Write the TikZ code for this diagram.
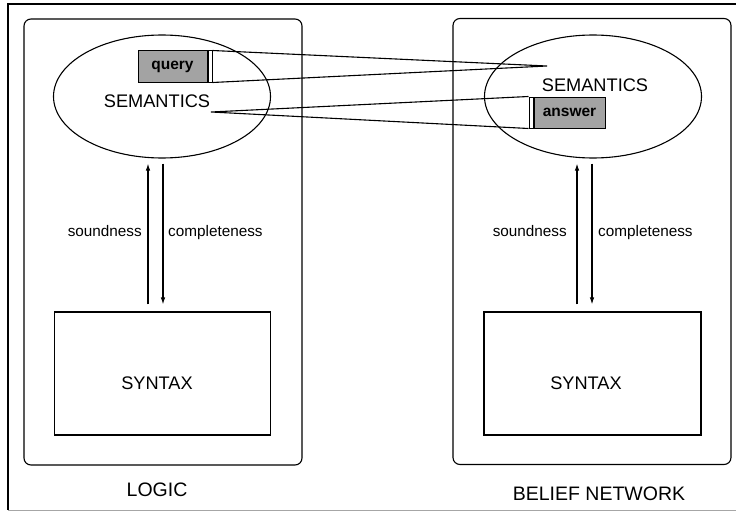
\documentclass[tikz,border=0pt]{standalone}
\usepackage{fontspec}
\setmainfont{Liberation Sans}
\usetikzlibrary{shapes.geometric,arrows.meta,calc}
\begin{document}
\begin{tikzpicture}[x=1pt,y=-1pt,
  panel/.style={draw, line width=1.1pt, rounded corners=7pt, minimum width=278pt, minimum height=446pt, inner sep=0pt},
  sem/.style={draw, ellipse, line width=1.1pt, inner sep=0pt, minimum width=217pt, minimum height=123pt},
  synbox/.style={draw, line width=1.1pt, inner sep=0pt, minimum width=216pt, minimum height=123pt},
  big/.style={font=\fontsize{18.2}{20}\selectfont, inner sep=0pt},
  lab/.style={font=\fontsize{15.3}{18}\selectfont, inner sep=0pt},
  captxt/.style={font=\fontsize{19.5}{22}\selectfont, inner sep=0pt},
  tag/.style={draw, line width=1pt, fill=gray!72, inner sep=0pt, minimum height=31pt, font=\bfseries\fontsize{15.5}{18}\selectfont},
  strip/.style={draw, line width=1pt, fill=white, inner sep=0pt, minimum width=4pt, minimum height=31pt},
  arr/.style={line width=1.1pt, -{Latex[length=7pt,width=4.5pt]}},
  ray/.style={line width=1.1pt}
]
\useasboundingbox (0,0) rectangle (736,511);
% outer frame
\draw[line width=1.2pt] (740,4) -- (8,4) -- (8,510);
\draw[line width=1pt, gray!70] (8,510) -- (740,510);
% panels
\node[panel] (pL) at (163,242) {};
\node[panel] (pR) at (592,241.5) {};
% semantics ellipses
\node[sem] (semL) at (162,96.5) {};
\node[sem] (semR) at (593,96.5) {};
\node[big] (tsemL) at (157,101) {SEMANTICS};
\node[big] (tsemR) at (595,85) {SEMANTICS};
% query / answer
\node[tag, minimum width=69pt] (query) at (172.5,66.5) {query};
\node[strip, anchor=west] (qs) at (query.east) {};
\node[tag, minimum width=71pt] (answer) at (569.5,112.5) {answer};
\node[strip, anchor=east] (as) at (answer.west) {};
\coordinate (cq) at (547,66);
\coordinate (ca) at (211,112);
\draw[ray] (qs.north east) -- (cq) -- (qs.south east);
\draw[ray] (as.north west) -- (ca) -- (as.south west);
% syntax boxes
\node[synbox] (synL) at (162.5,373.5) {};
\node[synbox, minimum width=217pt] (synR) at (592.5,373.5) {};
\node[big] (tsynL) at (157,383) {SYNTAX};
\node[big] (tsynR) at (586,383) {SYNTAX};
% arrows
\draw[arr, shorten <=7pt, shorten >=5pt] ([xshift=-14.5pt]synL.north) -- ([xshift=-14.5pt]synL.north |- semL.south);
\draw[arr, shorten <=5pt, shorten >=7pt] ([xshift=0.5pt]synL.north |- semL.south) -- ([xshift=0.5pt]synL.north);
\draw[arr, shorten <=7pt, shorten >=5pt] ([xshift=-15.5pt]synR.north) -- ([xshift=-15.5pt]synR.north |- semR.south);
\draw[arr, shorten <=5pt, shorten >=7pt] ([xshift=-0.5pt]synR.north |- semR.south) -- ([xshift=-0.5pt]synR.north);
% labels
\node[lab, anchor=base east] (sL) at (142,236) {soundness};
\node[lab, anchor=base west] (cL) at (168,236) {completeness};
\node[lab, anchor=base east] (sR) at (567,236) {soundness};
\node[lab, anchor=base west] (cR) at (598,236) {completeness};
% captions
\node[captxt] (logic) at (157,489.5) {LOGIC};
\node[captxt] (bn) at (599,493.5) {BELIEF NETWORK};
\end{tikzpicture}
\end{document}
